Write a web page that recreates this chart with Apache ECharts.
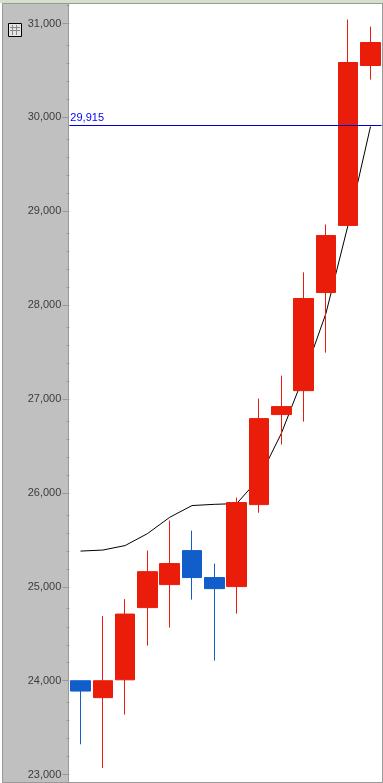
<!DOCTYPE html>
<html>
<head>
<meta charset="utf-8">
<style>html,body{margin:0;padding:0;background:#fff}#c{width:383px;height:783px}</style>
<script src="https://cdn.jsdelivr.net/npm/echarts@6/dist/echarts.min.js"></script>
</head>
<body>
<div id="c"></div>
<script>
var categories = ['1','2','3','4','5','6','7','8','9','10','11','12','13','14'];
var opens  = [24000,23820,24010,24779,25024,25386,25099,25003,25876,26835,27090,28135,28850,30553];
var closes = [23890,24000,24710,25162,25248,25099,24981,25898,26792,26920,28071,28742,30585,30798];
var lows   = [23323,23070,23640,24374,24566,24864,24214,24715,25790,26515,26760,27495,28850,30403];
var highs  = [24000,24690,24870,25386,25706,25599,25248,25951,27005,27250,28350,28860,31043,30968];
var maValues = [25381,25392,25440,25567,25741,25866,25879,25887,26153,26633,27240,27911,28859,29903];
var majorTicks = [23000,24000,25000,26000,27000,28000,29000,30000,31000];
var minorTicks = [23192,23383,23575,23767,24192,24383,24575,24767,25192,25383,25575,25767,26192,26383,26575,26767,27192,27383,27575,27767,28192,28383,28575,28767,29192,29383,29575,29767,30192,30383,30575,30767,31192];
var refValue = 29915;
var yMin = 22915, yMax = 31202;

var candleData = categories.map(function (_, i) { return [opens[i], closes[i], lows[i], highs[i]]; });
var font = '"Liberation Sans", Arial, sans-serif';
var chart = echarts.init(document.getElementById('c'), null, { renderer: 'canvas' });

var iconLines = [];
[12.5, 16.5].forEach(function (x) {
  iconLines.push({ type: 'line', z: 11, shape: { x1: x, y1: 25, x2: x, y2: 35 }, style: { stroke: '#8a8a8a', lineWidth: 1 } });
});
[27.5, 30.5].forEach(function (y) {
  iconLines.push({ type: 'line', z: 11, shape: { x1: 10, y1: y, x2: 20, y2: y }, style: { stroke: '#8a8a8a', lineWidth: 1 } });
});

chart.setOption({
  animation: false,
  backgroundColor: '#ffffff',
  grid: { left: 69.35, top: 4.6, width: 312.3, height: 778, containLabel: false },
  xAxis: { type: 'category', data: categories, show: false, boundaryGap: true },
  yAxis: [
    {
      type: 'value', min: yMin, max: yMax, position: 'left', splitLine: { show: false },
      axisLine: { show: false },
      axisTick: { show: true, length: 7, customValues: majorTicks, lineStyle: { color: '#999999', width: 1 } },
      axisLabel: {
        show: true, margin: 8, customValues: majorTicks, fontFamily: font, fontSize: 11, color: '#3c3c3c',
        formatter: function (v) { return Number(v).toLocaleString('en-US'); }
      }
    },
    {
      type: 'value', min: yMin, max: yMax, position: 'left', splitLine: { show: false },
      axisLine: { show: false }, axisLabel: { show: false },
      axisTick: { show: true, length: 3, customValues: minorTicks, lineStyle: { color: '#999999', width: 1 } }
    }
  ],
  series: [
    {
      type: 'line', data: maValues, symbol: 'none', z: 1, silent: true,
      lineStyle: { color: '#000000', width: 1 }
    },
    {
      type: 'candlestick', data: candleData, barWidth: 20, z: 2, silent: true,
      itemStyle: { color: '#ea1c0a', color0: '#115ecb', borderColor: '#ea1c0a', borderColor0: '#115ecb', borderWidth: 1, borderJoin: 'miter' },
      markLine: {
        silent: true, symbol: 'none', animation: false, z: 5,
        lineStyle: { color: '#0000cc', width: 1, type: 'solid' },
        label: {
          show: true, position: 'insideStartTop', distance: [1, 2], color: '#0000ff', fontFamily: font, fontSize: 11,
          formatter: function () { return refValue.toLocaleString('en-US'); }
        },
        data: [{ yAxis: refValue }]
      }
    }
  ],
  graphic: [
    { type: 'rect', z: -10, shape: { x: 0, y: 0, width: 383, height: 3 }, style: { fill: '#d6e0c8' } },
    { type: 'rect', z: -9, shape: { x: 3, y: 4, width: 65, height: 778 }, style: { fill: '#c0c0c0' } },
    { type: 'rect', z: -8, shape: { x: 2, y: 3, width: 381, height: 1 }, style: { fill: '#999999' } },
    { type: 'rect', z: -8, shape: { x: 2, y: 782, width: 381, height: 1 }, style: { fill: '#999999' } },
    { type: 'rect', z: -8, shape: { x: 2, y: 3, width: 1, height: 780 }, style: { fill: '#999999' } },
    { type: 'rect', z: -8, shape: { x: 68, y: 3, width: 1, height: 780 }, style: { fill: '#999999' } },
    { type: 'rect', z: -8, shape: { x: 382, y: 3, width: 1, height: 780 }, style: { fill: '#999999' } },
    { type: 'rect', z: 10, shape: { x: 8.5, y: 23.5, width: 13, height: 13 }, style: { fill: '#e4e4e4', stroke: '#000000', lineWidth: 1 } }
  ].concat(iconLines)
});
</script>
</body>
</html>
